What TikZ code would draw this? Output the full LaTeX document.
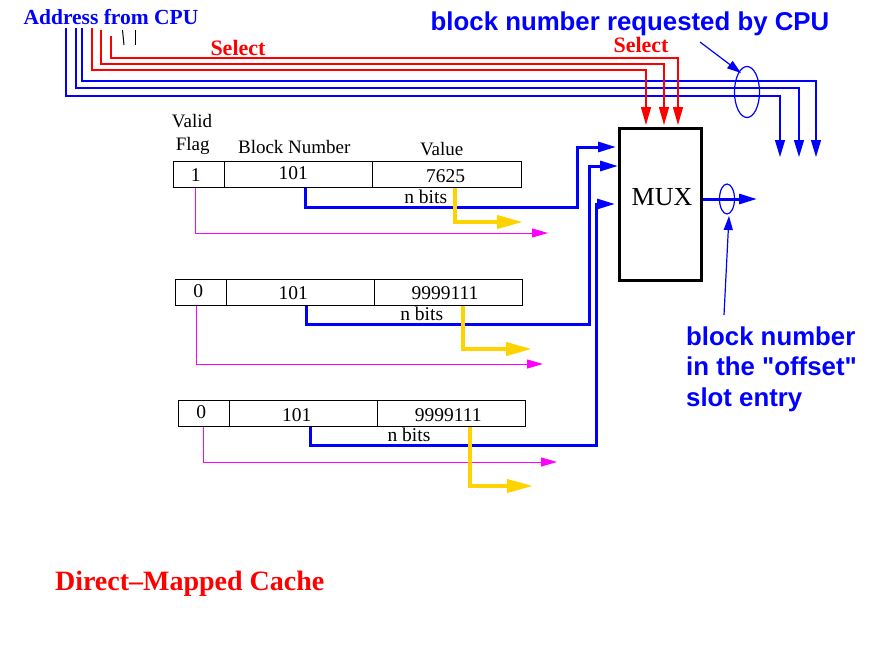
\documentclass[tikz,border=0pt]{standalone}
\usepackage{fontspec}
\setmainfont{Liberation Serif}
\newfontfamily\hv{Liberation Sans}
\usetikzlibrary{arrows.meta,shapes.geometric}
\definecolor{fblue}{RGB}{0,0,255}
\definecolor{fred}{RGB}{255,0,0}
\definecolor{fmag}{RGB}{255,0,255}
\definecolor{fgold}{RGB}{255,211,0}
\tikzset{
  cell/.style={draw=black, line width=1pt, rectangle, inner sep=0pt},
  txt/.style={inner sep=0pt, anchor=base, font=\fontsize{19.5}{20}\selectfont},
  bluelbl/.style={inner sep=0pt, anchor=base west, text=fblue, font=\hv\bfseries\fontsize{25.8}{26}\selectfont},
  redlbl/.style={inner sep=0pt, anchor=base, text=fred, font=\bfseries\fontsize{22}{22}\selectfont},
  bus/.style={fblue, line width=1.2pt},
  busarrow/.style={bus, -{Triangle[length=17pt,width=10pt]}},
  selarrow/.style={fred, line width=1.5pt, -{Triangle[length=18pt,width=10pt]}},
  thickblue/.style={fblue, line width=3pt, -{Triangle[length=18pt,width=10pt]}},
  yel/.style={fgold, line width=4pt, -{Triangle[length=26pt,width=13pt]}},
  mag/.style={fmag, line width=1pt, -{Triangle[length=16pt,width=9pt]}},
  thinarrow/.style={fblue, line width=1.2pt, -{Triangle[length=14pt,width=9pt]}},
  ring/.style={ellipse, draw=fblue, line width=1.2pt, inner sep=0pt}
}
\begin{document}
\begin{tikzpicture}[x=1pt,y=-1pt]
\fill[white] (0,0) rectangle (895,656);
\useasboundingbox (0,0) rectangle (895,656);

% ---------- titles ----------
\node[inner sep=0pt, anchor=base, text=fblue, font=\bfseries\fontsize{21.5}{22}\selectfont] (addr) at (111,24) {Address from CPU};
\node[bluelbl, anchor=base] (req) at (630,30.7) {block number requested by CPU};
\node[redlbl] (sel1) at (238,55) {Select};
\node[redlbl] (sel2) at (641,52) {Select};

% ---------- address bus ----------
\coordinate (s1) at (66,28);  \coordinate (o1) at (780,96);  \coordinate (d1) at (780,157);
\coordinate (s2) at (76,28);  \coordinate (o2) at (799,88);  \coordinate (d2) at (799,157);
\coordinate (s3) at (82,28);  \coordinate (o3) at (816,81);  \coordinate (d3) at (816,157);
\coordinate (s4) at (92,28);  \coordinate (o4) at (646,70);  \coordinate (d4) at (646,125);
\coordinate (s5) at (101,30); \coordinate (o5) at (664,64);  \coordinate (d5) at (664,125);
\coordinate (s6) at (111,36); \coordinate (o6) at (678,58);  \coordinate (d6) at (678,125);
\draw[busarrow] (s1) |- (o1) -- (d1);
\draw[busarrow] (s2) |- (o2) -- (d2);
\draw[busarrow] (s3) |- (o3) -- (d3);
\draw[selarrow] (s4) |- (o4) -- (d4);
\draw[selarrow] (s5) |- (o5) -- (d5);
\draw[selarrow] (s6) |- (o6) -- (d6);
\coordinate (k1a) at (122.5,30); \coordinate (k1b) at (124,45);
\coordinate (k2a) at (135,30);   \coordinate (k2b) at (135,45);
\draw[black, line width=1pt] (k1a) -- (k1b);
\draw[black, line width=1pt] (k2a) -- (k2b);

% ring on bus and pointer
\node[ring, minimum width=25pt, minimum height=51pt] (e1) at (747,92) {};
\coordinate (p1s) at (700,42); \coordinate (p1e) at (741,73);
\draw[thinarrow] (p1s) -- (p1e);

% ---------- MUX ----------
\node[draw=black, line width=3pt, minimum width=82pt, minimum height=152pt, inner sep=0pt] (mux) at (660,204) {};
\node[inner sep=0pt, anchor=base, font=\fontsize{26}{26}\selectfont] (muxt) at (662,205) {MUX};
\coordinate (mo) at (757,199);
\draw[thickblue] (mux.east |- mo) -- (mo);
\node[ring, minimum width=15pt, minimum height=30pt] (e2) at (727,199) {};
\coordinate (p2s) at (724,315); \coordinate (p2e) at (729,216);
\draw[thinarrow] (p2s) -- (p2e);

\node[bluelbl] (off1) at (686,345) {block number};
\node[bluelbl] (off2) at (686,375) {in the "offset"};
\node[bluelbl] (off3) at (686,406.7) {slot entry};

% ---------- headers ----------
\node[txt, font=\fontsize{19}{19}\selectfont] (valid) at (192,127.3) {Valid};
\node[txt, font=\fontsize{19}{19}\selectfont] (flag) at (192.7,150) {Flag};
\node[txt, font=\fontsize{19}{19}\selectfont] (bn) at (294.3,153.3) {Block Number};
\node[txt, font=\fontsize{19}{19}\selectfont] (val) at (441.7,155) {Value};

% ---------- row 1 ----------
\node[cell, minimum width=51pt, minimum height=25.6pt] (r1f) at (198.8,174.5) {};
\node[cell, minimum width=148pt, minimum height=25.6pt] (r1n) at (298.3,174.5) {};
\node[cell, minimum width=149.4pt, minimum height=25.6pt] (r1v) at (447,174.5) {};
\node[txt] (r1ft) at (195.7,181.7) {1};
\node[txt] (r1nt) at (293.3,179) {101};
\node[txt] (r1vt) at (445.7,182.3) {7625};
\node[txt] (r1bits) at (425.7,203.3) {n bits};
\coordinate (r1m) at (548,233);
\coordinate (r1y) at (523,222);
\coordinate (r1k) at (577,207);
\coordinate (r1in) at (616,147);
\draw[mag] ([xshift=-3.8pt]r1f.south) |- (r1m);
\draw[thickblue] ([xshift=6.7pt]r1n.south) |- (r1k) |- (r1in);
\draw[yel] ([xshift=8pt]r1v.south) |- (r1y);

% ---------- row 2 ----------
\node[cell, minimum width=51pt, minimum height=25.7pt] (r2f) at (201.2,292.2) {};
\node[cell, minimum width=147.3pt, minimum height=25.7pt] (r2n) at (300.35,292.2) {};
\node[cell, minimum width=148pt, minimum height=25.7pt] (r2v) at (448,292.2) {};
\node[txt] (r2ft) at (198.3,297.3) {0};
\node[txt] (r2nt) at (293.3,299.3) {101};
\node[txt] (r2vt) at (445,299.3) {9999111};
\node[txt] (r2bits) at (421.7,320) {n bits};
\coordinate (r2m) at (543,364);
\coordinate (r2y) at (532,349);
\coordinate (r2k) at (589,324);
\coordinate (r2in) at (618,166);
\draw[mag] ([xshift=-5.2pt]r2f.south) |- (r2m);
\draw[thickblue] ([xshift=6.4pt]r2n.south) |- (r2k) |- (r2in);
\draw[yel] ([xshift=15pt]r2v.south) |- (r2y);

% ---------- row 3 ----------
\node[cell, minimum width=51pt, minimum height=26.3pt] (r3f) at (203.8,413.8) {};
\node[cell, minimum width=148pt, minimum height=26.3pt] (r3n) at (303.3,413.8) {};
\node[cell, minimum width=148pt, minimum height=26.3pt] (r3v) at (451.3,413.8) {};
\node[txt] (r3ft) at (201.3,418.3) {0};
\node[txt] (r3nt) at (296.7,421) {101};
\node[txt] (r3vt) at (448.3,421) {9999111};
\node[txt] (r3bits) at (409,441.7) {n bits};
\coordinate (r3m) at (557,462);
\coordinate (r3y) at (533,486);
\coordinate (r3k) at (596,445);
\coordinate (r3in) at (615,204);
\draw[mag] ([xshift=-0.8pt]r3f.south) |- (r3m);
\draw[thickblue] ([xshift=6.7pt]r3n.south) |- (r3k) |- (r3in);
\draw[yel] ([xshift=18.7pt]r3v.south) |- (r3y);

% ---------- caption ----------
\node[inner sep=0pt, anchor=base, text=fred, font=\bfseries\fontsize{28}{28}\selectfont] (cap) at (189.7,590) {Direct--Mapped Cache};
\end{tikzpicture}
\end{document}
